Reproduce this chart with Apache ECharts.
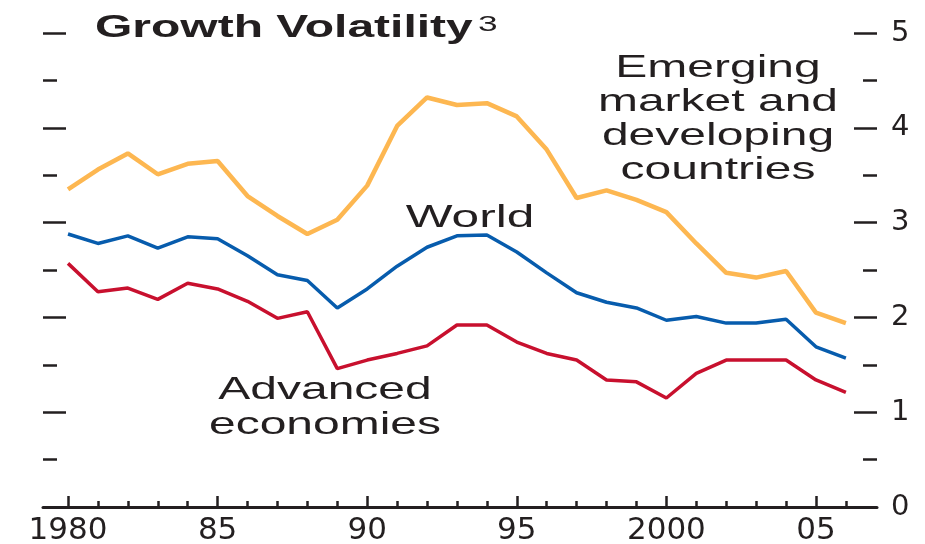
<!DOCTYPE html>
<html>
<head>
<meta charset="utf-8">
<title>Growth Volatility</title>
<script src="https://cdn.jsdelivr.net/npm/echarts@6.0.0/dist/echarts.min.js"></script>
<style>
  html, body { margin: 0; padding: 0; background: #fff; }
  #chart { width: 925px; height: 544px; }
</style>
</head>
<body>
<div id="chart"></div>
<script>
// years on the x axis
const years = [1980, 1981, 1982, 1983, 1984, 1985, 1986, 1987, 1988, 1989,
  1990, 1991, 1992, 1993, 1994, 1995, 1996, 1997, 1998, 1999,
  2000, 2001, 2002, 2003, 2004, 2005, 2006];
// labelled years and their short labels
const labelYears = [1980, 1985, 1990, 1995, 2000, 2005];
const yearLabels = ['1980', '85', '90', '95', '2000', '05'];

// growth volatility
const emerging = [3.35, 3.56, 3.73, 3.51, 3.62, 3.65, 3.28, 3.07, 2.88, 3.03,
  3.39, 4.02, 4.32, 4.24, 4.26, 4.12, 3.77, 3.26, 3.34, 3.24,
  3.11, 2.78, 2.47, 2.42, 2.49, 2.05, 1.94];
const world = [2.88, 2.78, 2.86, 2.73, 2.85, 2.83, 2.65, 2.45, 2.39, 2.10,
  2.30, 2.54, 2.74, 2.86, 2.87, 2.69, 2.47, 2.26, 2.16, 2.10,
  1.97, 2.01, 1.94, 1.94, 1.98, 1.69, 1.57];
const advanced = [2.57, 2.27, 2.31, 2.19, 2.36, 2.30, 2.17, 1.99, 2.06, 1.46,
  1.55, 1.62, 1.70, 1.92, 1.92, 1.74, 1.62, 1.55, 1.34, 1.32,
  1.15, 1.41, 1.55, 1.55, 1.55, 1.34, 1.21];

const ink = '#231f20';
const pairs = (vals) => years.map((y, i) => [y, vals[i]]);

const chart = echarts.init(document.getElementById('chart'));

const sideAxis = (pos, showLabel) => ({
  type: 'value',
  position: pos,
  min: 0,
  max: 5,
  interval: 1,
  axisLine: { show: false },
  splitLine: { show: false },
  axisTick: { show: true, inside: true, length: 23, lineStyle: { color: ink, width: 2.5 } },
  minorTick: { show: true, splitNumber: 2, length: 14, lineStyle: { color: ink, width: 2.5 } },
  axisLabel: {
    show: showLabel,
    margin: 14,
    color: ink,
    fontSize: 29,
    fontFamily: 'DejaVu Sans',
    formatter: (v) => String(v)
  }
});

const option = {
  animation: false,
  backgroundColor: '#fff',
  grid: {
    left: 43,
    right: 48,
    top: 33,
    bottom: 37,
    containLabel: false,
    outerBoundsMode: 'none'
  },
  xAxis: [{
    type: 'value',
    position: 'bottom',
    min: 1979.164,
    max: 2007.04,
    axisLine: { show: true, lineStyle: { color: ink, width: 3 } },
    splitLine: { show: false },
    axisTick: { show: true, inside: true, length: 6, customValues: years, lineStyle: { color: ink, width: 2.5 } },
    axisLabel: { show: false }
  }, {
    type: 'value',
    position: 'bottom',
    min: 1979.164,
    max: 2007.04,
    axisLine: { show: false },
    splitLine: { show: false },
    axisTick: { show: true, inside: true, length: 11, customValues: labelYears, lineStyle: { color: ink, width: 2.5 } },
    axisLabel: {
      show: true,
      customValues: labelYears,
      margin: 8,
      color: ink,
      fontSize: 31,
      fontFamily: 'DejaVu Sans',
      formatter: (v) => yearLabels[labelYears.indexOf(Math.round(v))]
    }
  }],
  yAxis: [sideAxis('left', false), sideAxis('right', true)],
  series: [{
    name: 'Emerging market and developing countries',
    type: 'line',
    data: pairs(emerging),
    showSymbol: false,
    color: '#fdb751',
    lineStyle: { width: 4.5 }
  }, {
    name: 'World',
    type: 'line',
    data: pairs(world),
    showSymbol: false,
    color: '#075cad',
    lineStyle: { width: 3.5 }
  }, {
    name: 'Advanced economies',
    type: 'line',
    data: pairs(advanced),
    showSymbol: false,
    color: '#c8102e',
    lineStyle: { width: 3.5 }
  }],
  graphic: [{
    type: 'text',
    x: 95,
    y: 28,
    scaleX: 1.5,
    style: {
      text: 'Growth Volatility',
      font: 'bold 32px "Liberation Sans"',
      fill: ink,
      textAlign: 'left',
      textVerticalAlign: 'middle'
    }
  }, {
    type: 'text',
    x: 478,
    y: 25,
    scaleX: 1.6,
    style: {
      text: '3',
      font: '22px "Liberation Sans"',
      fill: ink,
      textAlign: 'left',
      textVerticalAlign: 'middle'
    }
  }, {
    type: 'text',
    x: 718,
    y: 51,
    scaleX: 1.5,
    style: {
      text: 'Emerging\nmarket and\ndeveloping\ncountries',
      font: '32px "Liberation Sans"',
      lineHeight: 34,
      fill: ink,
      textAlign: 'center',
      textVerticalAlign: 'top'
    }
  }, {
    type: 'text',
    x: 470,
    y: 218,
    scaleX: 1.55,
    style: {
      text: 'World',
      font: '32px "Liberation Sans"',
      fill: ink,
      textAlign: 'center',
      textVerticalAlign: 'middle'
    }
  }, {
    type: 'text',
    x: 325,
    y: 373,
    scaleX: 1.5,
    style: {
      text: 'Advanced\neconomies',
      font: '32px "Liberation Sans"',
      lineHeight: 35,
      fill: ink,
      textAlign: 'center',
      textVerticalAlign: 'top'
    }
  }]
};

chart.setOption(option);
</script>
</body>
</html>
